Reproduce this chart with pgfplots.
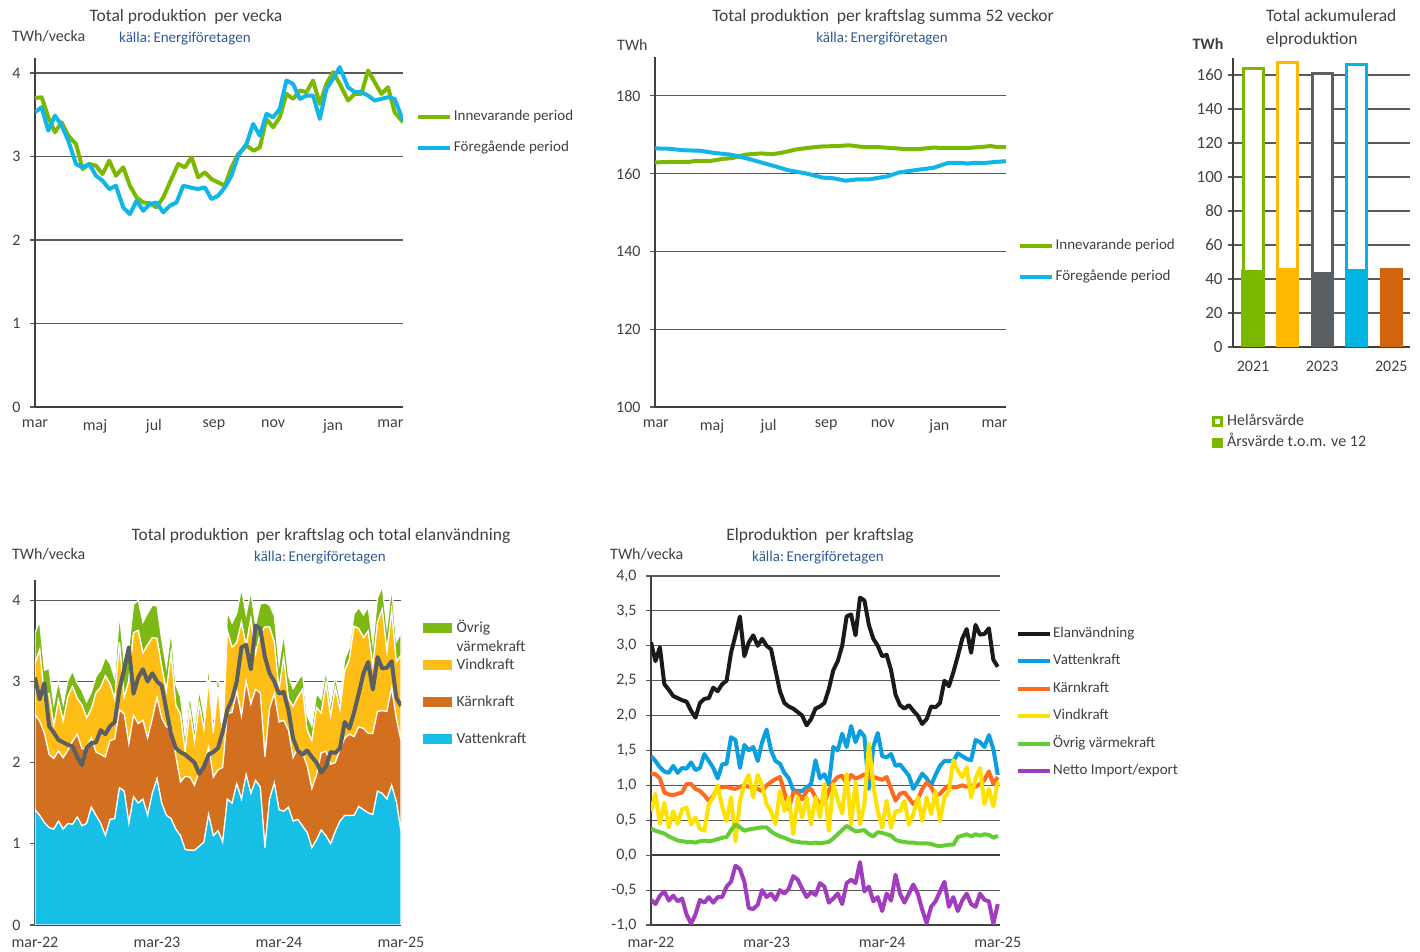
\documentclass[border=0pt]{standalone}
\usepackage{fontspec}
\setmainfont{Carlito}
\usepackage{pgfplots}
\pgfplotsset{compat=1.18}
\usepackage{pgfplotstable}

\definecolor{txt}{HTML}{404040}
\definecolor{kalla}{HTML}{2E5A94}
\definecolor{axgray}{HTML}{404040}
\definecolor{gridg}{HTML}{595959}
\definecolor{inneg}{HTML}{7DB800}
\definecolor{foreb}{HTML}{12B6E6}
\definecolor{c21}{HTML}{7AB800}
\definecolor{c22}{HTML}{FFB900}
\definecolor{c23}{HTML}{5A5F63}
\definecolor{c24}{HTML}{00B5E2}
\definecolor{c25}{HTML}{D1640D}
\definecolor{vatA}{HTML}{17BEE6}
\definecolor{karA}{HTML}{D2701F}
\definecolor{vinA}{HTML}{FFBE15}
\definecolor{ovrA}{HTML}{7DB914}
\definecolor{elanA}{HTML}{5A5F64}
\definecolor{elanL}{HTML}{1A1A1A}
\definecolor{vatL}{HTML}{0A9FE0}
\definecolor{karL}{HTML}{FF6A1F}
\definecolor{vinL}{HTML}{FFE100}
\definecolor{ovrL}{HTML}{66CC33}
\definecolor{netL}{HTML}{A23CBF}

\newcommand{\ttl}{\fontsize{17.5}{20}\selectfont}
\newcommand{\tks}{\fontsize{16}{19}\selectfont}
\newcommand{\lgs}{\fontsize{15}{19}\selectfont}
\newcommand{\kls}{\fontsize{15}{17}\selectfont}

\pgfplotstableread{
w elan vatten karn vind ovrig netto
0 3.05 1.42 1.17 0.63 0.38 -0.64
2 2.78 1.35 1.16 0.88 0.35 -0.70
4 2.98 1.26 1.10 0.45 0.33 -0.58
6 2.45 1.20 0.90 0.75 0.31 -0.52
8 2.37 1.18 0.87 0.40 0.27 -0.65
10 2.28 1.28 0.86 0.63 0.24 -0.58
12 2.25 1.18 0.88 0.45 0.21 -0.66
14 2.22 1.25 0.90 0.66 0.20 -0.62
16 2.20 1.24 1.02 0.68 0.19 -0.85
18 2.07 1.33 1.02 0.44 0.19 -0.98
20 1.97 1.22 0.95 0.54 0.18 -0.85
22 2.18 1.25 0.92 0.38 0.20 -0.64
24 2.24 1.45 0.86 0.35 0.21 -0.68
26 2.25 1.35 0.78 0.73 0.20 -0.60
28 2.40 1.25 0.85 0.83 0.21 -0.68
30 2.35 1.10 0.97 1.00 0.23 -0.60
32 2.45 1.30 0.97 0.70 0.25 -0.60
34 2.50 1.31 0.98 0.49 0.26 -0.45
36 2.90 1.69 0.96 0.83 0.36 -0.38
38 3.15 1.65 0.95 0.20 0.44 -0.15
40 3.42 1.25 0.98 0.78 0.40 -0.20
42 2.85 1.58 1.00 1.02 0.35 -0.38
44 3.05 1.50 0.98 1.15 0.37 -0.76
46 3.15 1.55 0.97 0.83 0.38 -0.77
48 3.00 1.35 0.95 1.15 0.39 -0.71
50 3.10 1.62 0.92 1.00 0.40 -0.50
52 3.00 1.80 1.00 0.73 0.40 -0.60
54 2.95 1.50 1.05 0.63 0.34 -0.55
56 2.65 1.35 1.09 0.44 0.30 -0.64
58 2.35 1.31 1.12 0.92 0.27 -0.50
60 2.18 1.18 0.90 0.63 0.25 -0.55
62 2.13 1.10 0.66 0.83 0.22 -0.48
64 2.10 0.93 0.90 0.30 0.20 -0.30
66 2.05 0.92 0.90 0.83 0.19 -0.35
68 2.00 0.92 0.80 0.54 0.18 -0.48
70 1.86 0.97 0.92 0.83 0.18 -0.60
72 1.95 1.02 0.95 0.44 0.17 -0.53
74 2.10 1.36 0.83 0.83 0.18 -0.57
76 2.13 1.10 0.72 0.54 0.17 -0.40
78 2.18 1.16 0.75 1.02 0.18 -0.45
80 2.38 1.02 0.92 0.35 0.19 -0.68
82 2.65 1.55 1.05 1.02 0.24 -0.62
84 2.78 1.50 1.12 0.80 0.30 -0.55
86 3.00 1.74 1.14 0.60 0.36 -0.70
88 3.42 1.55 1.02 1.16 0.42 -0.40
90 3.45 1.85 1.15 0.44 0.38 -0.35
92 3.15 1.62 1.10 1.05 0.34 -0.40
94 3.69 1.78 1.12 0.44 0.35 -0.10
96 3.65 1.70 1.16 0.73 0.36 -0.52
98 3.30 0.95 1.12 1.60 0.30 -0.45
100 3.10 1.55 1.12 1.00 0.27 -0.66
102 3.00 1.75 1.10 0.63 0.33 -0.60
104 2.85 1.42 1.08 0.39 0.32 -0.80
106 2.87 1.40 1.12 0.78 0.30 -0.55
108 2.65 1.45 0.95 0.39 0.28 -0.65
110 2.30 1.28 0.78 0.63 0.22 -0.28
112 2.15 1.30 0.88 0.63 0.20 -0.55
114 2.10 1.22 0.90 0.78 0.19 -0.68
116 2.15 1.14 0.82 0.44 0.18 -0.55
118 2.07 0.95 0.73 0.59 0.18 -0.42
120 2.00 1.05 0.80 0.83 0.17 -0.55
122 1.88 1.17 0.95 0.49 0.17 -0.78
124 1.95 1.10 1.04 0.83 0.17 -0.97
126 2.13 1.00 0.98 0.59 0.16 -0.74
128 2.12 1.15 0.85 0.92 0.14 -0.66
130 2.18 1.28 0.88 0.49 0.13 -0.52
132 2.50 1.35 0.95 0.83 0.14 -0.38
134 2.42 1.35 1.00 0.92 0.15 -0.74
136 2.62 1.35 0.97 1.36 0.15 -0.60
138 2.85 1.46 0.98 1.21 0.26 -0.80
140 3.10 1.42 1.00 1.12 0.28 -0.65
142 3.24 1.38 0.98 1.26 0.30 -0.55
144 2.90 1.36 1.00 0.83 0.27 -0.70
146 3.30 1.65 0.98 1.10 0.30 -0.74
148 3.16 1.62 1.02 1.25 0.28 -0.55
150 3.17 1.55 1.08 0.73 0.30 -0.64
152 3.25 1.72 1.20 0.95 0.29 -0.66
154 2.80 1.52 1.02 0.70 0.25 -0.98
156 2.70 1.15 1.12 1.05 0.28 -0.70
}\elprod

\pgfplotsset{
  base/.style={
    scale only axis, anchor=south west,
    axis x line=bottom, axis y line=left,
    axis line style={-, draw=axgray},
    x axis line style={line width=2.5pt},
    y axis line style={line width=2pt},
    ymajorgrids, grid style={line width=1.1pt, draw=gridg},
    tick align=outside, major tick length=5pt,
    ytick style={line width=1.1pt, draw=gridg},
    xtick style={draw=none},
    tick label style={font=\tks, text=txt},
    yticklabel style={xshift=-6pt},
    xticklabel style={yshift=-4pt},
    /pgf/number format/assume math mode=true,
    legend style={draw=none, fill=none, font=\lgs, text=txt, inner sep=0pt,
      nodes={inner sep=1.5pt, text height=10.5pt, text depth=3pt}},
    legend cell align=left,
  },
  linelegend/.style={legend image code/.code={\draw[##1] (0pt,0pt) -- (32pt,0pt);}},
}

\begin{document}
\begin{tikzpicture}
\path[use as bounding box] (0pt,0pt) rectangle (1420pt,952pt);

% ---------------- Panel 1 ----------------
\node[inner sep=0pt, font=\ttl, text=txt] at (186pt,935pt) {Total produktion\ \ per vecka};
\node[inner sep=0pt, anchor=west, font=\tks, text=txt] at (12pt,916pt) {TWh/vecka};
\node[inner sep=0pt, anchor=west, font=\kls, text=kalla] at (119pt,913pt) {källa:\,Energiföretagen};
\begin{axis}[base, linelegend, at={(35pt,545pt)}, width=368pt, height=349pt,
  xmin=105, xmax=1210, ymin=0, ymax=4.18, ytick={0,1,2,3,4},
  xtick={105,285,462,642,820,1000,1172}, xticklabels={mar,maj,jul,sep,nov,jan,mar},
  legend style={at={(1.036,0.856)}, anchor=north west, row sep=15pt}]
\addplot[inneg, line width=4pt, line join=round] coordinates {
(105,3.70)(125,3.71)(145,3.47)(165,3.29)(185,3.41)(205,3.25)(228,3.15)(248,2.85)(268,2.91)(288,2.89)(308,2.79)(328,2.95)(348,2.77)(370,2.87)(390,2.65)(410,2.51)(430,2.45)(450,2.44)(470,2.39)(490,2.51)(510,2.69)(535,2.91)(555,2.87)(575,2.99)(595,2.75)(615,2.81)(635,2.73)(655,2.69)(675,2.65)(695,2.87)(715,3.03)(740,3.13)(762,3.07)(780,3.11)(800,3.45)(820,3.35)(840,3.47)(860,3.75)(880,3.69)(900,3.79)(920,3.77)(940,3.91)(960,3.63)(980,3.87)(1000,4.01)(1020,3.87)(1045,3.67)(1065,3.75)(1085,3.75)(1105,4.03)(1125,3.89)(1145,3.75)(1165,3.83)(1185,3.53)(1210,3.41)};
\addlegendentry{Innevarande period}
\addplot[foreb, line width=4pt, line join=round] coordinates {
(105,3.53)(125,3.59)(145,3.31)(165,3.49)(185,3.37)(205,3.19)(228,2.91)(248,2.87)(268,2.91)(288,2.77)(308,2.71)(328,2.61)(348,2.65)(370,2.39)(390,2.31)(410,2.47)(430,2.35)(450,2.43)(470,2.45)(490,2.33)(510,2.41)(530,2.45)(550,2.65)(570,2.63)(595,2.61)(615,2.63)(635,2.49)(655,2.53)(675,2.63)(695,2.77)(715,3.01)(740,3.15)(760,3.39)(780,3.25)(800,3.51)(820,3.47)(840,3.57)(860,3.91)(880,3.87)(900,3.69)(920,3.73)(940,3.73)(960,3.45)(980,3.81)(1000,3.93)(1020,4.07)(1045,3.83)(1065,3.77)(1085,3.77)(1105,3.73)(1125,3.67)(1145,3.69)(1165,3.71)(1185,3.69)(1210,3.43)};
\addlegendentry{Föregående period}
\end{axis}

% ---------------- Panel 2 ----------------
\node[inner sep=0pt, font=\ttl, text=txt] at (883pt,935pt) {Total produktion\ \ per kraftslag summa 52 veckor};
\node[inner sep=0pt, anchor=west, font=\tks, text=txt] at (617pt,907pt) {TWh};
\node[inner sep=0pt, font=\kls, text=kalla] at (882pt,913pt) {källa:\,Energiföretagen};
\begin{axis}[base, linelegend, at={(655pt,545pt)}, width=351pt, height=350pt,
  xmin=143, xmax=1060, ymin=100, ymax=190, ytick={100,120,140,160,180},
  xtick={145,292,440,590,738,886,1030}, xticklabels={mar,maj,jul,sep,nov,jan,mar},
  legend style={at={(1.034,0.485)}, anchor=north west, row sep=15pt}]
\addplot[inneg, line width=4pt, line join=round] coordinates {
(143,162.9)(180,163.0)(230,163.0)(250,163.3)(290,163.3)(320,163.8)(345,164.0)(380,164.9)(420,165.2)(450,165.0)(480,165.5)(510,166.2)(540,166.6)(580,167.0)(620,167.1)(650,167.3)(690,166.8)(730,166.8)(760,166.6)(800,166.3)(830,166.3)(870,166.7)(900,166.6)(960,166.6)(1000,166.9)(1020,167.1)(1040,166.8)(1060,166.8)};
\addlegendentry{Innevarande period}
\addplot[foreb, line width=4pt, line join=round] coordinates {
(143,166.5)(180,166.4)(220,166.0)(260,165.9)(300,165.3)(340,164.9)(380,164.0)(420,162.9)(460,161.8)(490,160.9)(540,160.0)(580,159.0)(610,158.8)(640,158.2)(670,158.5)(700,158.5)(750,159.3)(780,160.3)(830,161.0)(870,161.5)(910,162.8)(940,162.8)(960,162.6)(980,162.8)(1000,162.7)(1030,163.0)(1060,163.2)};
\addlegendentry{Föregående period}
\end{axis}

% ---------------- Panel 3 ----------------
\node[inner sep=0pt, anchor=west, font=\ttl, text=txt] at (1266pt,936pt) {Total ackumulerad};
\node[inner sep=0pt, anchor=west, font=\ttl, text=txt] at (1266pt,912pt) {elproduktion};
\node[inner sep=0pt, font=\tks\bfseries, text=txt] at (1208pt,908pt) {TWh};
\begin{axis}[base, at={(1233pt,605pt)}, width=177pt, height=289pt,
  ybar, bar shift=0pt,
  xmin=-0.578, xmax=4.54, ymin=0, ymax=170, ytick={0,20,...,160},
  yticklabel style={font=\fontsize{17}{20}\selectfont, xshift=4pt},
  xticklabel style={yshift=-2pt},
  xtick={0,2,4}, xticklabels={2021,2023,2025},
  legend style={at={(-0.119,-0.228)}, anchor=north west, row sep=5pt, font=\fontsize{16}{19}\selectfont,
    /tikz/every odd column/.append style={column sep=3pt}},
  legend image code/.code={\draw[#1, line width=2.5pt] (0pt,-4pt) rectangle (8pt,4pt);}]
\addplot[draw=c21, fill=white, line width=3pt, bar width=20pt] coordinates {(0,164.1)};
\addlegendentry{Helårsvärde}
\addplot[fill=c21, draw=c21, line width=0pt, bar width=23pt] coordinates {(0,44.9)};
\addlegendentry{Årsvärde t.o.m. ve 12}
\addplot[forget plot, draw=c22, fill=white, line width=3pt, bar width=20pt] coordinates {(1,167.4)};
\addplot[forget plot, draw=c23, fill=white, line width=3pt, bar width=20pt] coordinates {(2,161.1)};
\addplot[forget plot, draw=c24, fill=white, line width=3pt, bar width=20pt] coordinates {(3,166.4)};
\addplot[forget plot, fill=c22, draw=none, bar width=23pt] coordinates {(1,46.3)};
\addplot[forget plot, fill=c23, draw=none, bar width=23pt] coordinates {(2,44.3)};
\addplot[forget plot, fill=c24, draw=none, bar width=23pt] coordinates {(3,45.7)};
\addplot[forget plot, fill=c25, draw=none, bar width=23pt] coordinates {(4,46.3)};
\end{axis}

% ---------------- Panel 4 ----------------
\node[inner sep=0pt, font=\ttl, text=txt] at (321pt,416pt) {Total produktion\ \ per kraftslag och total elanvändning};
\node[inner sep=0pt, anchor=west, font=\tks, text=txt] at (12pt,398pt) {TWh/vecka};
\node[inner sep=0pt, anchor=west, font=\kls, text=kalla] at (254pt,394pt) {källa:\,Energiföretagen};
\begin{axis}[base, at={(35pt,27pt)}, width=366pt, height=345pt,
  stack plots=y, xmin=0, xmax=156, ymin=0, ymax=4.25, ytick={0,1,2,3,4},
  xtick={0,52,104,156}, xticklabels={mar-22,mar-23,mar-24,mar-25},
  reverse legend,
  legend style={at={(1.060,0.884)}, anchor=north west, row sep=20.5pt,
    font=\fontsize{15.5}{19}\selectfont,
    /tikz/every odd column/.append style={column sep=3pt}},
  legend image code/.code={\path[#1, draw=none] (0pt,-5pt) rectangle (29pt,5pt);}]
\addplot[fill=vatA, draw=white, line width=1.2pt] table[x=w, y=vatten] {\elprod} \closedcycle;
\addlegendentry{Vattenkraft}
\addplot[fill=karA, draw=white, line width=1.2pt] table[x=w, y=karn] {\elprod} \closedcycle;
\addlegendentry{Kärnkraft}
\addplot[fill=vinA, draw=white, line width=1.2pt] table[x=w, y=vind] {\elprod} \closedcycle;
\addlegendentry{Vindkraft}
\addplot[fill=ovrA, draw=white, line width=1.2pt] table[x=w, y=ovrig] {\elprod} \closedcycle;
\addlegendentry{\vtop{\hbox{Övrig}\hbox{värmekraft}}}
\end{axis}
\begin{axis}[scale only axis, anchor=south west, at={(35pt,27pt)}, width=366pt, height=345pt,
  xmin=0, xmax=156, ymin=0, ymax=4.25, hide axis]
\addplot[elanA, line width=4pt, line join=round] table[x=w, y=elan] {\elprod};
\end{axis}

% ---------------- Panel 5 ----------------
\node[inner sep=0pt, font=\ttl, text=txt] at (820pt,416pt) {Elproduktion\ \ per kraftslag};
\node[inner sep=0pt, anchor=west, font=\tks, text=txt] at (610pt,398pt) {TWh/vecka};
\node[inner sep=0pt, anchor=west, font=\kls, text=kalla] at (752pt,394pt) {källa:\,Energiföretagen};
\begin{axis}[base, linelegend, at={(651pt,27pt)}, width=349pt, height=349pt,
  xmin=0, xmax=157, ymin=-1, ymax=4, ytick={-1,-0.5,...,4},
  yticklabel style={/pgf/number format/.cd, fixed, fixed zerofill, precision=1, use comma},
  extra y ticks={0}, extra y tick labels={}, extra y tick style={grid style={line width=2.5pt, draw=axgray}},
  xtick={0,52,104,156}, xticklabels={mar-22,mar-23,mar-24,mar-25},
  legend style={at={(1.044,0.859)}, anchor=north west, row sep=11pt}]
\addplot[elanL, line width=4pt, line join=round] table[x=w, y=elan] {\elprod};
\addlegendentry{Elanvändning}
\addplot[vatL, line width=4pt, line join=round] table[x=w, y=vatten] {\elprod};
\addlegendentry{Vattenkraft}
\addplot[karL, line width=4pt, line join=round] table[x=w, y=karn] {\elprod};
\addlegendentry{Kärnkraft}
\addplot[vinL, line width=4pt, line join=round] table[x=w, y=vind] {\elprod};
\addlegendentry{Vindkraft}
\addplot[ovrL, line width=4pt, line join=round] table[x=w, y=ovrig] {\elprod};
\addlegendentry{Övrig värmekraft}
\addplot[netL, line width=4pt, line join=round] table[x=w, y=netto] {\elprod};
\addlegendentry{Netto Import/export}
\end{axis}
\end{tikzpicture}
\end{document}
